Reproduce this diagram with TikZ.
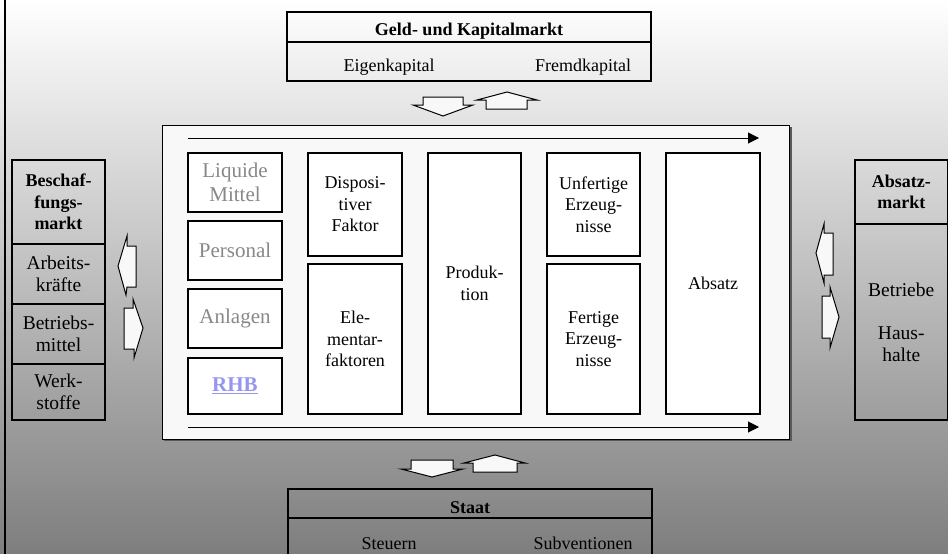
\documentclass[tikz,border=0pt]{standalone}
\usepackage{fontspec}
\setmainfont{Liberation Serif}
\usetikzlibrary{arrows.meta}
\definecolor{greytext}{RGB}{136,136,136}
\definecolor{rhbblue}{RGB}{150,150,240}
\definecolor{panelfill}{RGB}{248,248,248}
\definecolor{bgbottom}{RGB}{126,126,126}
\begin{document}
\begin{tikzpicture}[x=1pt,y=-1pt,
  every node/.style={inner sep=0pt,outer sep=0pt},
  box/.style={draw=black,line width=1.1pt,fill=white,anchor=north west,align=center,
              font=\fontsize{18}{21.5}\selectfont},
  sidebox/.style={draw=black,line width=1.1pt,anchor=north west,align=center,
              font=\fontsize{19.5}{21.5}\selectfont},
  greybox/.style={box,text=greytext,font=\fontsize{21}{24.5}\selectfont},
  mkt/.style={draw=black,line width=1.1pt},
  flow/.style={line width=1pt,-{Triangle[length=11pt,width=11pt]}},
  blockarrow/.style={draw=black,line width=1pt,fill=panelfill,line join=miter},
  lbl/.style={font=\fontsize{18}{21.5}\selectfont,anchor=base},
  head/.style={font=\fontsize{18}{21.5}\selectfont\bfseries,anchor=base}]

\useasboundingbox (0,0) rectangle (948,554);
\clip (0,0) rectangle (948,554);

% background shading
\shade[top color=white,bottom color=bgbottom] (0,0) rectangle (948,554);
\draw[line width=2.5pt] (5,-2) -- (5,560);

% capital market
\draw[mkt] (287,12) rectangle (651,81);
\draw[mkt] (287,42) -- (651,42);
\node[head] (gkm) at (469,35) {Geld- und Kapitalmarkt};
\node[lbl] (ek) at (389,71) {Eigenkapital};
\node[lbl] (fk) at (583,71) {Fremdkapital};

% state
\draw[mkt] (288,489) rectangle (652,560);
\draw[mkt] (288,518) -- (652,518);
\node[head] (staat) at (470,513) {Staat};
\node[lbl] (st) at (389,549) {Steuern};
\node[lbl] (sub) at (583,549) {Subventionen};

% procurement market
\node[sidebox,minimum width=93pt,minimum height=84pt,font=\fontsize{18}{21.5}\selectfont\bfseries]
  (bm) at (12,160) {Beschaf-\\fungs-\\markt};
\node[sidebox,minimum width=93pt,minimum height=60pt] (ak) at (12,244) {Arbeits-\\kräfte};
\node[sidebox,minimum width=93pt,minimum height=60pt] (bmi) at (12,304) {Betriebs-\\mittel};
\node[sidebox,minimum width=93pt,minimum height=56pt] (ws) at (12,364) {Werk-\\stoffe};

% sales market
\node[sidebox,minimum width=92.5pt,minimum height=64pt,font=\fontsize{18}{21.5}\selectfont\bfseries]
  (am) at (855,160) {Absatz-\\markt};
\node[sidebox,minimum width=92.5pt,minimum height=196pt] (bh) at (855,224)
  {Betriebe\\[22pt]Haus-\\halte};

% company panel
\fill[black!65] (163.5,126.5) rectangle (791.5,440.5);
\draw[line width=1pt,fill=panelfill] (162,125) rectangle (789.5,439);

\coordinate (ftopA) at (188,138);
\coordinate (ftopB) at (759,138);
\coordinate (fbotA) at (188,427);
\coordinate (fbotB) at (759,427);
\draw[flow] (ftopA) -- (ftopB);
\draw[flow] (fbotA) -- (fbotB);

\node[greybox,minimum width=94pt,minimum height=59pt] (liq) at (188,153) {Liquide\\Mittel};
\node[greybox,minimum width=94pt,minimum height=59pt] (pers) at (188,221) {Personal};
\node[greybox,minimum width=94pt,minimum height=59pt] (anl) at (188,289) {Anlagen};
\node[greybox,minimum width=94pt,minimum height=56pt,text=rhbblue,font=\fontsize{21}{24.5}\selectfont\bfseries]
  (rhb) at (188,358) {\underline{RHB}};

\node[box,minimum width=94pt,minimum height=103pt] (disp) at (308,153) {Disposi-\\tiver\\Faktor};
\node[box,minimum width=94pt,minimum height=150pt] (elem) at (308,264) {Ele-\\mentar-\\faktoren};
\node[box,minimum width=93pt,minimum height=261pt] (prod) at (428,153) {Produk-\\tion};
\node[box,minimum width=93pt,minimum height=103pt] (unf) at (547,153) {Unfertige\\Erzeug-\\nisse};
\node[box,minimum width=93pt,minimum height=150pt] (fert) at (547,264) {Fertige\\Erzeug-\\nisse};
\node[box,minimum width=94pt,minimum height=261pt] (abs) at (666,153) {Absatz};

% exchange arrows, capital market
\draw[blockarrow] (423,97) -- (463,97) -- (463,105) -- (473,105) -- (443,116) -- (413,105) -- (423,105) -- cycle;
\draw[blockarrow] (486,109) -- (486,100) -- (477,100) -- (507,92) -- (537,100) -- (527,100) -- (527,109) -- cycle;

% exchange arrows, state
\draw[blockarrow] (411,460) -- (453,460) -- (453,469) -- (463,469) -- (432,477) -- (401,469) -- (411,469) -- cycle;
\draw[blockarrow] (473,472) -- (473,463) -- (464,463) -- (495,455) -- (525,463) -- (517,463) -- (517,472) -- cycle;

% exchange arrows, procurement market
\draw[blockarrow] (136,246) -- (127,246) -- (127,236) -- (118,266) -- (126,295) -- (127,287) -- (136,287) -- cycle;
\draw[blockarrow] (124,308) -- (133,308) -- (133,299) -- (143,328) -- (134,358) -- (134,349) -- (124,349) -- cycle;

% exchange arrows, sales market
\draw[blockarrow] (833,233) -- (824,233) -- (824,224) -- (816,253) -- (824,283) -- (824,275) -- (833,275) -- cycle;
\draw[blockarrow] (822,296) -- (830,296) -- (830,287) -- (839,317) -- (830,348) -- (830,338) -- (822,338) -- cycle;
\end{tikzpicture}
\end{document}
